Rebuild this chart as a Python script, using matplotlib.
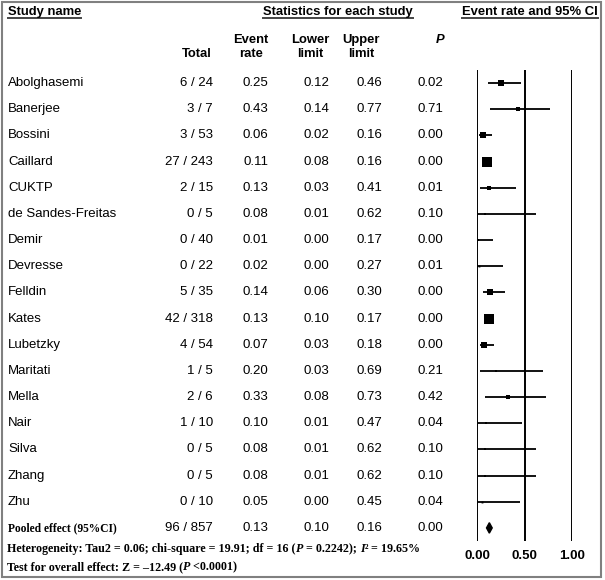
import matplotlib
matplotlib.use("Agg")
import matplotlib.pyplot as plt
from matplotlib.transforms import blended_transform_factory
from matplotlib.lines import Line2D
from matplotlib.patches import Rectangle, Polygon
import numpy as np

# ---------------- data ----------------
studies = ["Abolghasemi", "Banerjee", "Bossini", "Caillard", "CUKTP",
           "de Sandes-Freitas", "Demir", "Devresse", "Felldin", "Kates",
           "Lubetzky", "Maritati", "Mella", "Nair", "Silva", "Zhang", "Zhu"]
totals = ["6 / 24", "3 / 7", "3 / 53", "27 / 243", "2 / 15", "0 / 5", "0 / 40",
          "0 / 22", "5 / 35", "42 / 318", "4 / 54", "1 / 5", "2 / 6", "1 / 10",
          "0 / 5", "0 / 5", "0 / 10"]
event_rate = [0.25, 0.43, 0.06, 0.11, 0.13, 0.08, 0.01, 0.02, 0.14, 0.13,
              0.07, 0.20, 0.33, 0.10, 0.08, 0.08, 0.05]
lower = [0.12, 0.14, 0.02, 0.08, 0.03, 0.01, 0.00, 0.00, 0.06, 0.10,
         0.03, 0.03, 0.08, 0.01, 0.01, 0.01, 0.00]
upper = [0.46, 0.77, 0.16, 0.16, 0.41, 0.62, 0.17, 0.27, 0.30, 0.17,
         0.18, 0.69, 0.73, 0.47, 0.62, 0.62, 0.45]
p_values = ["0.02", "0.71", "0.00", "0.00", "0.01", "0.10", "0.00", "0.01", "0.00",
            "0.00", "0.00", "0.21", "0.42", "0.04", "0.10", "0.10", "0.04"]
# relative weights (%)
rel_weight = [8.4, 3.7, 5.7, 23.2, 3.7, 1.1, 1.0, 0.8, 8.0, 26.9,
              7.2, 1.8, 2.9, 2.0, 1.1, 1.1, 0.8]
pooled_label = "Pooled effect (95%CI)"
pooled_total = "96 / 857"
pooled_rate, pooled_lower, pooled_upper = 0.13, 0.10, 0.16
pooled_p = "0.00"
x_ticks = [0.0, 0.5, 1.0]
x_tick_labels = ["0.00", "0.50", "1.00"]
het_text = ["Heterogeneity: Tau2 = 0.06; chi-square = 19.91; df = 16 (", "P", " = 0.2242); ",
            "I", "\u00b2", " = 19.65%"]
overall_text = ["Test for overall effect: Z = \u201312.49 (", "P", " <0.0001)"]

# ---------------- figure ----------------
W, H = 605, 580
fig = plt.figure(figsize=(W / 100, H / 100), dpi=100)
fig.patch.set_facecolor("white")

def fx(px):
    return px / W

def fy(py):
    return 1 - py / H

n = len(studies)
nrows = n + 1
ax = fig.add_axes([fx(477), fy(541), fx(572) - fx(477), (541 - 70) / H])
ax.set_xlim(0, 1)
ax.set_ylim(nrows - 0.5, -0.5)
ax.axis("off")

for xv in x_ticks:
    ax.axvline(xv, color="black", lw=1.4, zorder=1)

rows = np.arange(n)
for i in range(n):
    ax.plot([lower[i], upper[i]], [rows[i], rows[i]], color="black", lw=1.3,
            solid_capstyle="butt", zorder=2, clip_on=False)
    side_px = 2.12 * np.sqrt(rel_weight[i])
    ax.plot([event_rate[i]], [rows[i]], marker="s", color="black",
            markersize=side_px * 0.72, markeredgewidth=0, zorder=3, clip_on=False)

# pooled diamond
pr = n
dh = 0.2
ax.add_patch(Polygon([[pooled_lower, pr], [pooled_rate, pr - dh],
                      [pooled_upper, pr], [pooled_rate, pr + dh]],
                     closed=True, color="black", zorder=3))

tick_tr = blended_transform_factory(ax.transData, fig.transFigure)
for xv, lab in zip(x_ticks, x_tick_labels):
    fig.text(xv, fy(556), lab, transform=tick_tr, ha="center", va="center",
             fontsize=9.5, fontweight="bold", family="Liberation Sans")

# ---------------- table ----------------
tr = blended_transform_factory(fig.transFigure, ax.transData)
sans = dict(family="Liberation Sans", fontsize=9.5)
col_right = {"total": 213, "rate": 268, "low": 329, "up": 382, "p": 443}
for i in range(n):
    y = rows[i]
    fig.text(fx(8), y, studies[i], transform=tr, ha="left", va="center", **sans)
    fig.text(fx(col_right["total"]), y, totals[i], transform=tr, ha="right", va="center", **sans)
    fig.text(fx(col_right["rate"]), y, f"{event_rate[i]:.2f}", transform=tr, ha="right", va="center", **sans)
    fig.text(fx(col_right["low"]), y, f"{lower[i]:.2f}", transform=tr, ha="right", va="center", **sans)
    fig.text(fx(col_right["up"]), y, f"{upper[i]:.2f}", transform=tr, ha="right", va="center", **sans)
    fig.text(fx(col_right["p"]), y, p_values[i], transform=tr, ha="right", va="center", **sans)

y = pr
fig.text(fx(8), y, pooled_label, transform=tr, ha="left", va="center",
         family="Liberation Serif", fontweight="bold", fontsize=8.3)
fig.text(fx(col_right["total"]), y, pooled_total, transform=tr, ha="right", va="center", **sans)
fig.text(fx(col_right["rate"]), y, f"{pooled_rate:.2f}", transform=tr, ha="right", va="center", **sans)
fig.text(fx(col_right["low"]), y, f"{pooled_lower:.2f}", transform=tr, ha="right", va="center", **sans)
fig.text(fx(col_right["up"]), y, f"{pooled_upper:.2f}", transform=tr, ha="right", va="center", **sans)
fig.text(fx(col_right["p"]), y, pooled_p, transform=tr, ha="right", va="center", **sans)

# ---------------- headers ----------------
hb = dict(family="Liberation Sans", fontsize=9.4, fontweight="bold")
titles = [(8, "Study name"), (263, "Statistics for each study"), (462, "Event rate and 95% CI")]
title_objs = []
for xp, t in titles:
    title_objs.append(fig.text(fx(xp), fy(12), t, ha="left", va="center", **hb))

fig.text(fx(212), fy(54), "Total", ha="right", va="center", **hb)
fig.text(fx(251), fy(47), "Event\nrate", ha="center", va="center", linespacing=1.3, **hb)
fig.text(fx(310), fy(47), "Lower\nlimit", ha="center", va="center", linespacing=1.3, **hb)
fig.text(fx(361), fy(47), "Upper\nlimit", ha="center", va="center", linespacing=1.3, **hb)
fig.text(fx(440), fy(40), "P", ha="center", va="center", style="italic", **hb)

renderer = fig.canvas.get_renderer()
for t in title_objs:
    bb = t.get_window_extent(renderer)
    fig.add_artist(Line2D([bb.x0 / W, bb.x1 / W], [fy(17.5), fy(17.5)], color="#444444",
                          lw=1.4, transform=fig.transFigure))

# ---------------- footer ----------------
def seq_text(x_px, y_px, parts, italic_idx, fs=8.65):
    x = x_px
    for k, s in enumerate(parts):
        t = fig.text(fx(x), fy(y_px), s, ha="left", va="center",
                     family="Liberation Serif", fontweight="bold", fontsize=fs,
                     style="italic" if k in italic_idx else "normal")
        bb = t.get_window_extent(renderer)
        x += bb.width

seq_text(7, 549, het_text, {1, 3})
seq_text(7, 567, overall_text, {1})

# border
fig.add_artist(Rectangle((fx(1.5), fy(577)), fx(601) - fx(1.5), fy(1.5) - fy(577),
                         fill=False, edgecolor="#808080", lw=1.5, transform=fig.transFigure))

fig.savefig("out.png", dpi=100)
